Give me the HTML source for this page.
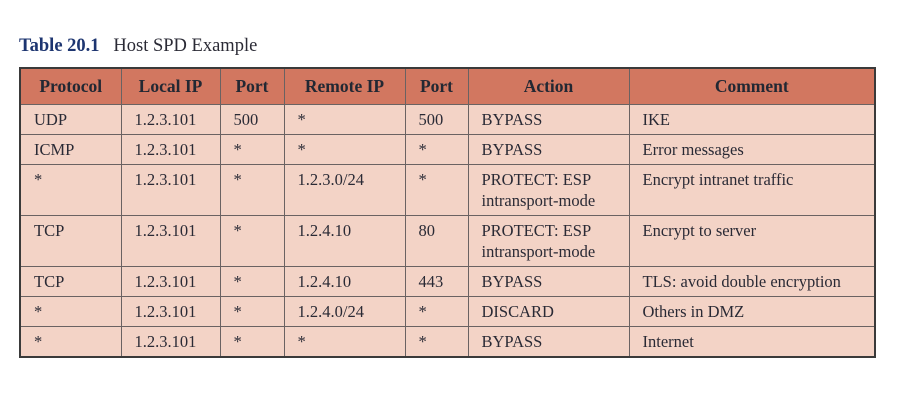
<!DOCTYPE html>
<html><head><style>
body{margin:0;width:904px;height:411px;background:#fff;position:relative;font-family:"Liberation Serif",serif;color:#2a2a35;}
.t{position:absolute;left:19px;top:36px;font-size:18.5px;}
.t b{color:#1d3570;}
table{position:absolute;left:19px;top:67px;border-collapse:collapse;table-layout:fixed;width:855px;font-size:16.5px;border:2.5px solid #3a3a3a;}
td,th{border:1.5px solid #6a6262;padding:0 0 0 13px;text-align:left;vertical-align:top;line-height:21px;}
th{background:#d27760;font-size:17.5px;height:35px;text-align:center;padding:0;vertical-align:middle;color:#222833;}
td{background:#f3d3c6;padding-top:4px;}
tr.r1 td{height:25px}
tr.r2 td{height:46px}
</style></head><body>
<div class="t"><b>Table 20.1</b>&nbsp;&nbsp;&nbsp;Host SPD Example</div>
<table>
<colgroup><col style="width:101px"><col style="width:99px"><col style="width:64px"><col style="width:121px"><col style="width:63px"><col style="width:161px"><col style="width:246px"></colgroup>
<tr><th>Protocol</th><th>Local IP</th><th>Port</th><th>Remote IP</th><th>Port</th><th>Action</th><th>Comment</th></tr>
<tr class="r1"><td>UDP</td><td>1.2.3.101</td><td>500</td><td>*</td><td>500</td><td>BYPASS</td><td>IKE</td></tr>
<tr class="r1"><td>ICMP</td><td>1.2.3.101</td><td>*</td><td>*</td><td>*</td><td>BYPASS</td><td>Error messages</td></tr>
<tr class="r2"><td>*</td><td>1.2.3.101</td><td>*</td><td>1.2.3.0/24</td><td>*</td><td>PROTECT: ESP intransport-mode</td><td>Encrypt intranet traffic</td></tr>
<tr class="r2"><td>TCP</td><td>1.2.3.101</td><td>*</td><td>1.2.4.10</td><td>80</td><td>PROTECT: ESP intransport-mode</td><td>Encrypt to server</td></tr>
<tr class="r1"><td>TCP</td><td>1.2.3.101</td><td>*</td><td>1.2.4.10</td><td>443</td><td>BYPASS</td><td>TLS: avoid double encryption</td></tr>
<tr class="r1"><td>*</td><td>1.2.3.101</td><td>*</td><td>1.2.4.0/24</td><td>*</td><td>DISCARD</td><td>Others in DMZ</td></tr>
<tr class="r1"><td>*</td><td>1.2.3.101</td><td>*</td><td>*</td><td>*</td><td>BYPASS</td><td>Internet</td></tr>
</table>
</body></html>
